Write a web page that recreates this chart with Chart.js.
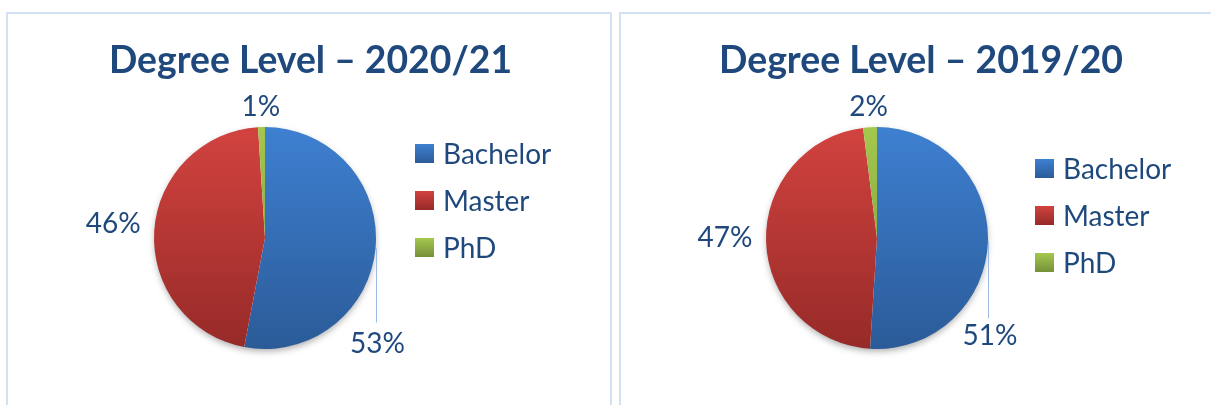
<!DOCTYPE html>
<html>
<head>
<meta charset="utf-8">
<script src="https://cdn.jsdelivr.net/npm/chart.js@4.4.0/dist/chart.umd.min.js"></script>
<style>
  body { margin: 0; background: #fff; width: 1211px; height: 405px; overflow: hidden; position: relative; }
  .panel { position: absolute; top: 12px; height: 420px; border: 2px solid #d3e1f3; border-bottom: none; }
  #p1 { left: 6px; width: 602px; }
  #p2 { left: 619px; width: 700px; }
  canvas { position: absolute; top: 0; }
</style>
</head>
<body>
<div class="panel" id="p1"></div>
<div class="panel" id="p2"></div>
<canvas id="c2021" width="615" height="405" style="left:0"></canvas>
<canvas id="c1920" width="596" height="405" style="left:615px"></canvas>
<script>
// data
const categories = ['Bachelor', 'Master', 'PhD']
const share2021 = [53, 46, 1]
const share1920 = [51, 47, 2]
const title2021 = 'Degree Level – 2020/21'
const title1920 = 'Degree Level – 2019/20'

// gradient fills, top -> bottom
const colorTop = ['#3e80d1', '#d2433f', '#a4c84e']
const colorBottom = ['#2b5b98', '#962a28', '#76913a']
const textColor = '#1f497d'
const font = 'Lato, "Open Sans", sans-serif'

const gradient = (ctx, top, bottom, i) => {
  const g = ctx.createLinearGradient(0, top, 0, bottom)
  g.addColorStop(0, colorTop[i])
  g.addColorStop(1, colorBottom[i])
  return g
}

const decor = {
  id: 'decor',
  beforeDatasetsDraw(chart) {
    const arc = chart.getDatasetMeta(0).data[0]
    if (!arc) return
    const ctx = chart.ctx
    ctx.save()
    ctx.shadowColor = 'rgba(0,0,0,0.35)'
    ctx.shadowBlur = 7
    ctx.shadowOffsetY = 3
    ctx.fillStyle = '#fff'
    ctx.beginPath()
    ctx.arc(arc.x, arc.y, arc.outerRadius - 1, 0, Math.PI * 2)
    ctx.fill()
    ctx.restore()
  },
  afterDraw(chart, args, o) {
    const ctx = chart.ctx
    ctx.save()
    // title
    ctx.fillStyle = textColor
    ctx.textAlign = 'center'
    ctx.textBaseline = 'alphabetic'
    ctx.font = 'bold 36px ' + font
    const size = 36 * o.titleWidth / ctx.measureText(o.title).width
    ctx.font = 'bold ' + size.toFixed(1) + 'px ' + font
    ctx.fillText(o.title, o.titleX, o.titleY)

    // legend
    ctx.textAlign = 'left'
    ctx.font = '28px ' + font
    chart.data.labels.forEach((lab, i) => {
      const cy = o.legendY + i * o.legendStep
      const s = 19
      ctx.fillStyle = gradient(ctx, cy - s / 2, cy + s / 2, i)
      ctx.fillRect(o.legendX, cy - s / 2, s, s)
      ctx.fillStyle = textColor
      ctx.fillText(lab, o.legendX + 28, cy + 10)
    })

    // data labels
    const values = chart.data.datasets[0].data
    const total = values.reduce((a, b) => a + b, 0)
    ctx.textAlign = 'center'
    chart.getDatasetMeta(0).data.forEach((arc, i) => {
      const txt = Math.round(values[i] / total * 100) + '%'
      const mid = (arc.startAngle + arc.endAngle) / 2
      const r = arc.outerRadius
      let x, y
      if (i === 0) {
        // leader line straight down from the slice edge
        const ex = arc.x + r * Math.cos(mid)
        const ey = arc.y + r * Math.sin(mid)
        ctx.strokeStyle = '#9dbbe4'
        ctx.lineWidth = 1
        ctx.beginPath()
        ctx.moveTo(Math.round(ex) + 0.5, ey)
        ctx.lineTo(Math.round(ex) + 0.5, ey + o.leaderLen)
        ctx.stroke()
        x = ex + 2
        y = ey + o.leaderLen + o.leaderGap
      } else {
        const d = r + o.labelOut[i]
        x = arc.x + d * Math.cos(mid)
        y = arc.y + d * Math.sin(mid) + o.labelDy[i]
      }
      ctx.fillStyle = textColor
      ctx.fillText(txt, x, y + 10)
    })
    ctx.restore()
  }
}

function makePie(id, values, pad, opts) {
  new Chart(document.getElementById(id), {
    type: 'pie',
    data: {
      labels: categories,
      datasets: [{
        data: values,
        radius: 111,
        borderWidth: 0,
        hoverOffset: 0,
        backgroundColor: (c) => {
          const a = c.chart.chartArea
          if (!a) return colorTop[c.dataIndex]
          return gradient(c.chart.ctx, a.top, a.bottom, c.dataIndex)
        }
      }]
    },
    options: {
      responsive: false,
      animation: false,
      devicePixelRatio: 1,
      layout: { padding: pad },
      plugins: {
        legend: { display: false },
        tooltip: { enabled: false },
        decor: opts
      }
    },
    plugins: [decor]
  })
}

makePie('c2021', share2021,
  { left: 154, right: 239, top: 127, bottom: 56 },
  { title: title2021, titleX: 310.5, titleY: 73, titleWidth: 403,
    legendX: 415, legendY: 153.5, legendStep: 47,
    leaderLen: 74, leaderGap: 21, labelOut: [0, 41, 21], labelDy: [0, -5, 0] })

makePie('c1920', share1920,
  { left: 151, right: 223, top: 127, bottom: 56 },
  { title: title1920, titleX: 306, titleY: 73, titleWidth: 404,
    legendX: 420, legendY: 168.5, legendStep: 47,
    leaderLen: 77, leaderGap: 17, labelOut: [0, 41, 21], labelDy: [0, -6, 0] })
</script>
</body>
</html>
